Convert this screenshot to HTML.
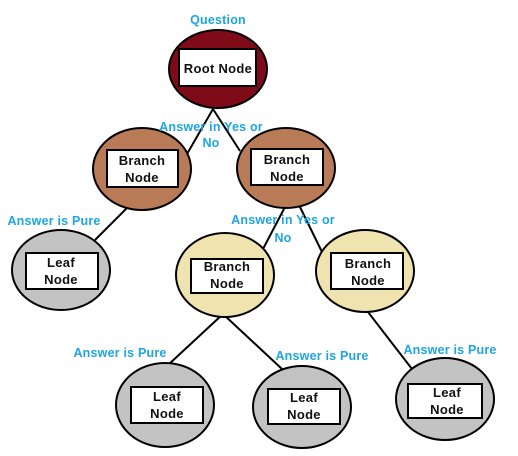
<!DOCTYPE html>
<html><head><style>html,body{margin:0;padding:0;background:#fff;}svg{display:block}</style></head>
<body>
<svg width="518" height="456" viewBox="0 0 518 456" xmlns="http://www.w3.org/2000/svg" font-family="'Liberation Sans', sans-serif" font-weight="bold">
<g stroke="#000" stroke-width="2" fill="none">
<line x1="213" y1="109" x2="187" y2="154"/>
<line x1="213" y1="109" x2="240" y2="151"/>
<line x1="128" y1="207" x2="95" y2="240"/>
<line x1="285" y1="207" x2="263" y2="249"/>
<line x1="300" y1="207" x2="322" y2="252"/>
<line x1="223" y1="314" x2="168" y2="365"/>
<line x1="223" y1="314" x2="282" y2="369"/>
<line x1="368" y1="312" x2="412" y2="369"/>
</g>
<g stroke="#000" stroke-width="2">
<ellipse cx="218" cy="69" rx="49" ry="39" fill="#7f0a18"/>
<ellipse cx="142" cy="169" rx="49" ry="41" fill="#b97a57"/>
<ellipse cx="286" cy="168" rx="49" ry="40" fill="#b97a57"/>
<ellipse cx="61" cy="270" rx="49" ry="40" fill="#c3c3c3"/>
<ellipse cx="225" cy="275" rx="49" ry="42" fill="#efe4b0"/>
<ellipse cx="365" cy="271" rx="49" ry="41" fill="#efe4b0"/>
<ellipse cx="165" cy="405" rx="49" ry="42" fill="#c3c3c3"/>
<ellipse cx="302" cy="407" rx="49" ry="41" fill="#c3c3c3"/>
<ellipse cx="445" cy="399" rx="49" ry="41" fill="#c3c3c3"/>
</g>
<g stroke="#000" stroke-width="2" fill="#fff">
<rect x="179" y="49" width="77" height="37"/>
<rect x="107" y="150" width="71" height="37"/>
<rect x="251" y="149" width="72" height="36"/>
<rect x="26" y="253" width="72" height="36"/>
<rect x="191" y="259" width="72" height="34"/>
<rect x="331" y="253" width="72" height="36"/>
<rect x="131" y="387" width="72" height="36"/>
<rect x="268" y="389" width="72" height="35"/>
<rect x="408" y="384" width="74" height="34"/>
</g>
<g font-size="13" fill="#111" text-anchor="middle" letter-spacing="0.3">
<text x="218" y="73">Root Node</text>
<text x="142" y="165">Branch</text><text x="142" y="182">Node</text>
<text x="287" y="164">Branch</text><text x="287" y="181">Node</text>
<text x="61" y="267">Leaf</text><text x="61" y="284">Node</text>
<text x="227" y="271">Branch</text><text x="227" y="288">Node</text>
<text x="368" y="268">Branch</text><text x="368" y="285">Node</text>
<text x="167" y="401">Leaf</text><text x="167" y="418">Node</text>
<text x="304" y="402">Leaf</text><text x="304" y="419">Node</text>
<text x="447" y="397">Leaf</text><text x="447" y="414">Node</text>
</g>
<g font-size="12.5" fill="#1ea5e3" text-anchor="middle" letter-spacing="0.2">
<text x="218" y="24">Question</text>
<text x="211" y="131">Answer in Yes or</text><text x="211" y="147">No</text>
<text x="283" y="224">Answer in Yes or</text><text x="283" y="242">No</text>
<text x="54" y="225">Answer is Pure</text>
<text x="120" y="357">Answer is Pure</text>
<text x="322" y="360">Answer is Pure</text>
<text x="450" y="354">Answer is Pure</text>
</g>
</svg>
</body></html>
